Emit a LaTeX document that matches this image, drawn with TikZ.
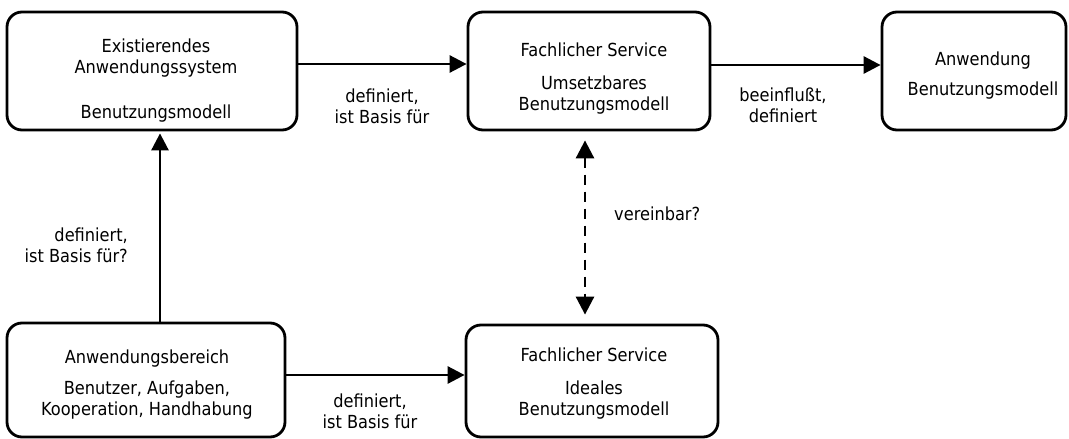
\documentclass[tikz,border=0pt]{standalone}
\usepackage{fontspec}
\setmainfont{DejaVu Sans Condensed}
\usetikzlibrary{arrows.meta}
\begin{document}
\begin{tikzpicture}[x=1pt,y=-1pt,
  box/.style={draw, line width=2.8pt, rounded corners=15pt, inner sep=0pt},
  txt/.style={align=center, anchor=base, inner sep=0pt, font=\fontsize{18}{21}\selectfont},
  arr/.style={line width=2.8pt, -{Triangle[length=17pt,width=17pt]}},
  dbl/.style={line width=2.8pt, dash pattern=on 10pt off 7pt,
    {Triangle[length=18pt,width=18pt]}-{Triangle[length=18pt,width=18pt]}}]
\useasboundingbox (0,0) rectangle (1069,439);

% boxes
\node[box, minimum width=290pt, minimum height=118pt] (exist) at (152,71) {};
\node[box, minimum width=242pt, minimum height=118pt] (umsetz) at (589,71) {};
\node[box, minimum width=184pt, minimum height=118pt] (anw) at (974,71) {};
\node[box, minimum width=278pt, minimum height=114pt] (bereich) at (146,380) {};
\node[box, minimum width=252pt, minimum height=112pt] (ideal) at (592,381) {};

% box texts (anchored at the baseline of the last line)
\node[txt] (texist) at (156,118) {Existierendes\\Anwendungssystem\\[24pt]Benutzungsmodell};
\node[txt] (tumsetz) at (594,110) {Fachlicher Service\\[12pt]Umsetzbares\\Benutzungsmodell};
\node[txt] (tanw) at (983,95) {Anwendung\\[9pt]Benutzungsmodell};
\node[txt] (tbereich) at (147,415) {Anwendungsbereich\\[10pt]Benutzer, Aufgaben,\\Kooperation, Handhabung};
\node[txt] (tideal) at (594,415) {Fachlicher Service\\[12pt]Ideales\\Benutzungsmodell};

% connectors
\draw[arr] ([yshift=7pt]exist.east) -- ([yshift=7pt]exist.east -| umsetz.west);
\draw[arr] ([yshift=6pt]umsetz.east) -- ([yshift=6pt]umsetz.east -| anw.west);
\draw[arr, shorten >=2pt] ([xshift=14pt]bereich.north) -- ([xshift=14pt]bereich.north |- exist.south);
\draw[arr] ([yshift=5pt]bereich.east) -- ([yshift=5pt]bereich.east -| ideal.west);
\draw[dbl, shorten <=9pt, shorten >=9pt] ([xshift=-4pt]umsetz.south) -- ([xshift=-4pt]umsetz.south |- ideal.north);

% connector labels
\node[txt] (l1) at (382,123) {definiert,\\ist Basis für};
\node[txt] (l2) at (783,122) {beeinflußt,\\definiert};
\node[txt, align=right, anchor=base east] (l3) at (128,262) {definiert,\\ist Basis für?};
\node[txt] (l4) at (370,428) {definiert,\\ist Basis für};
\node[txt, anchor=base west] (l5) at (614,220) {vereinbar?};
\end{tikzpicture}
\end{document}
